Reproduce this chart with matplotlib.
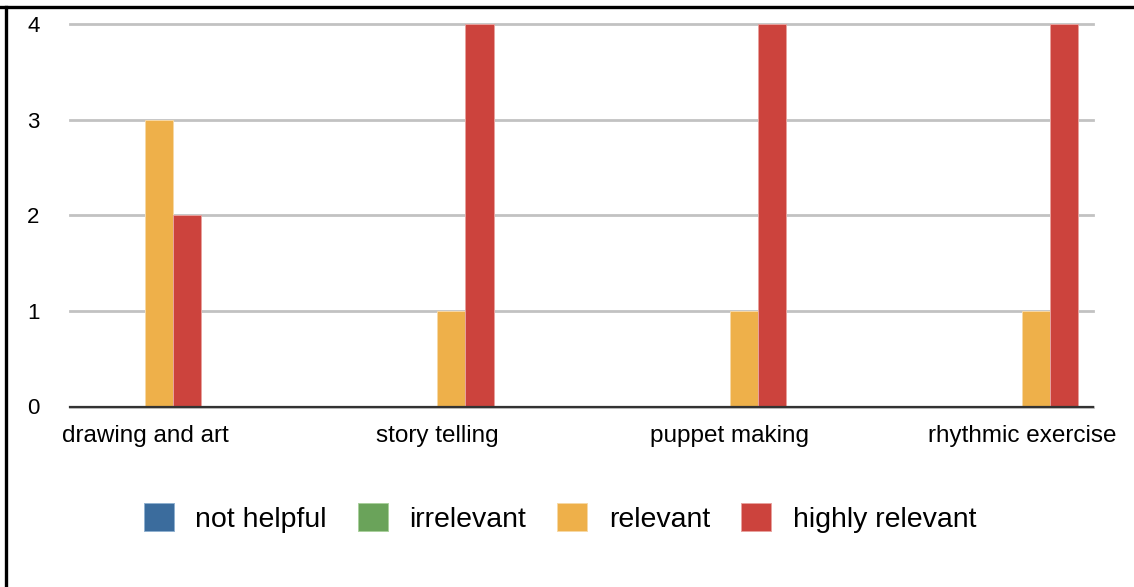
import matplotlib
matplotlib.use("Agg")
import matplotlib.pyplot as plt
import numpy as np
from matplotlib.lines import Line2D

plt.rcParams["font.family"] = ["Liberation Sans", "DejaVu Sans"]

categories = ["drawing and art", "story telling", "puppet making", "rhythmic exercise"]
series_names = ["not helpful", "irrelevant", "relevant", "highly relevant"]
not_helpful = [0, 0, 0, 0]
irrelevant = [0, 0, 0, 0]
relevant = [3, 1, 1, 1]
highly_relevant = [2, 4, 4, 4]
colors = ["#3b6c9d", "#6aa35a", "#eeb04a", "#cc433d"]
edge_colors = ["#8fb0d0", "#a9cf9c", "#f7d9a6", "#e8a29e"]

W, H = 1134, 587
fig = plt.figure(figsize=(W / 100, H / 100), dpi=100)
ax = fig.add_axes([70 / W, 1 - 406.5 / H, (1093 - 70) / W, (406.5 - 24) / H])

x = np.arange(len(categories))
bw = 0.096
all_vals = [not_helpful, irrelevant, relevant, highly_relevant]
for i, (name, vals) in enumerate(zip(series_names, all_vals)):
    ax.bar(x + (i - 2) * bw, vals, width=bw, align="edge", color=colors[i],
           edgecolor=edge_colors[i], linewidth=0.7, label=name, zorder=3)

ax.set_xlim(-0.2565, 3.242)
ax.set_ylim(0, 4)
ax.set_yticks([0, 1, 2, 3, 4])
ax.yaxis.grid(True, color="#c2c2c2", linewidth=2, zorder=0)
ax.set_axisbelow(True)
for g in ax.get_ygridlines():
    g.set_clip_on(False)
ax.axhline(0, color="#333333", linewidth=1.6, zorder=4, clip_on=False)
for s in ax.spines.values():
    s.set_visible(False)

ax.set_xticks(x)
ax.set_xticklabels(categories, fontsize=17.5)
ax.tick_params(axis="x", length=0, pad=13)
ax.tick_params(axis="y", length=0, pad=22, labelsize=16)

fig.legend(loc="center", bbox_to_anchor=(560 / W, 1 - 518 / H), ncol=4,
           frameon=False, fontsize=20.5, handlelength=1.05, handleheight=1.1,
           handletextpad=0.75, columnspacing=1.1)

# border lines on top and left
fig.add_artist(Line2D([0, 1], [1 - 6.5 / H, 1 - 6.5 / H], color="black", linewidth=2.4,
                      transform=fig.transFigure))
fig.add_artist(Line2D([5.5 / W, 5.5 / W], [0, 1 - 6.5 / H], color="black", linewidth=2.4,
                      transform=fig.transFigure))

fig.savefig("out.png", dpi=100)
